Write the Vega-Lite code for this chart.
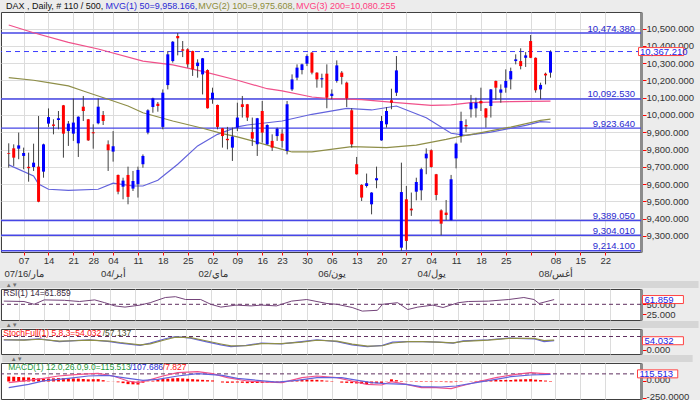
{
  "$schema": "https://vega.github.io/schema/vega-lite/v6.json",
  "background": "#ECECEC",
  "padding": {"left": -4, "top": 1, "right": 0, "bottom": 0},
  "autosize": {"type": "pad"},
  "config": {
    "font": "Liberation Sans",
    "view": {"fill": "#FFFFFF", "stroke": "#404040", "strokeWidth": 1},
    "axis": {"labelFont": "Liberation Sans", "gridColor": "#DCDCDC", "gridWidth": 1, "title": null, "tickCount": 200},
    "axisX": {"labelOverlap": false},
    "axisY": {"labelOverlap": false}
  },
  "datasets": {
    "candles": [
      {"i":0,"o":9780,"h":9836,"l":9695,"c":9776,"hist":75},
      {"i":1,"o":9807,"h":9830,"l":9705,"c":9753,"hist":72},
      {"i":2,"o":9805,"h":9898,"l":9744,"c":9824,"hist":68},
      {"i":3,"o":9763,"h":9811,"l":9686,"c":9780,"hist":64},
      {"i":4,"o":9700,"h":9782,"l":9614,"c":9692,"hist":61},
      {"i":5,"o":9699,"h":9834,"l":9676,"c":9724,"hist":54},
      {"i":6,"o":9701,"h":9994,"l":9495,"c":9498,"hist":47},
      {"i":7,"o":9672,"h":9834,"l":9637,"c":9830,"hist":40},
      {"i":8,"o":9950,"h":10038,"l":9931,"c":9988,"hist":44},
      {"i":9,"o":9945,"h":9975,"l":9888,"c":9937,"hist":48},
      {"i":10,"o":9971,"h":10023,"l":9917,"c":9981,"hist":51},
      {"i":11,"o":10056,"h":10058,"l":9753,"c":9892,"hist":50},
      {"i":12,"o":9907,"h":9965,"l":9821,"c":9950,"hist":48},
      {"i":13,"o":9892,"h":10096,"l":9850,"c":9956,"hist":46},
      {"i":14,"o":9836,"h":9992,"l":9757,"c":9990,"hist":44},
      {"i":15,"o":10048,"h":10110,"l":9965,"c":10023,"hist":38},
      {"i":16,"o":9975,"h":9977,"l":9850,"c":9853,"hist":33},
      {"i":17,"o":9900,"h":9946,"l":9805,"c":9894,"hist":35},
      {"i":18,"o":9952,"h":10096,"l":9946,"c":10048,"hist":36},
      {"i":19,"o":10000,"h":10023,"l":9942,"c":9965,"hist":20},
      {"i":20,"o":9830,"h":9853,"l":9676,"c":9796,"hist":4},
      {"i":21,"o":9788,"h":9907,"l":9730,"c":9819,"hist":2},
      {"i":22,"o":9653,"h":9655,"l":9541,"c":9556,"hist":-12},
      {"i":23,"o":9585,"h":9637,"l":9512,"c":9620,"hist":-25},
      {"i":24,"o":9653,"h":9701,"l":9483,"c":9526,"hist":-40},
      {"i":25,"o":9574,"h":9676,"l":9560,"c":9618,"hist":-43},
      {"i":26,"o":9599,"h":9701,"l":9522,"c":9682,"hist":-46},
      {"i":27,"o":9715,"h":9772,"l":9695,"c":9763,"hist":-18},
      {"i":28,"o":9898,"h":10033,"l":9888,"c":10027,"hist":-5},
      {"i":29,"o":10046,"h":10100,"l":10013,"c":10096,"hist":12},
      {"i":30,"o":10065,"h":10075,"l":10019,"c":10052,"hist":28},
      {"i":31,"o":9931,"h":10148,"l":9917,"c":10129,"hist":38},
      {"i":32,"o":10173,"h":10370,"l":10148,"c":10351,"hist":43},
      {"i":33,"o":10312,"h":10428,"l":10303,"c":10424,"hist":47},
      {"i":34,"o":10457,"h":10474.38,"l":10345,"c":10444,"hist":51},
      {"i":35,"o":10380,"h":10428,"l":10335,"c":10372,"hist":46},
      {"i":36,"o":10380,"h":10386,"l":10274,"c":10293,"hist":41},
      {"i":37,"o":10370,"h":10372,"l":10226,"c":10264,"hist":35},
      {"i":38,"o":10283,"h":10322,"l":10216,"c":10303,"hist":30},
      {"i":39,"o":10235,"h":10330,"l":10119,"c":10328,"hist":25},
      {"i":40,"o":10260,"h":10264,"l":10037,"c":10039,"hist":20},
      {"i":41,"o":10091,"h":10158,"l":10065,"c":10129,"hist":16},
      {"i":42,"o":10058,"h":10060,"l":9917,"c":9931,"hist":0},
      {"i":43,"o":9923,"h":9925,"l":9811,"c":9878,"hist":-15},
      {"i":44,"o":9862,"h":9931,"l":9801,"c":9854,"hist":-20},
      {"i":45,"o":9811,"h":9927,"l":9734,"c":9875,"hist":-18},
      {"i":46,"o":9927,"h":10071,"l":9907,"c":9985,"hist":-15},
      {"i":47,"o":10062,"h":10110,"l":9985,"c":10046,"hist":-20},
      {"i":48,"o":10062,"h":10064,"l":9965,"c":9985,"hist":-25},
      {"i":49,"o":9901,"h":9985,"l":9821,"c":9863,"hist":-23},
      {"i":50,"o":9830,"h":9983,"l":9763,"c":9981,"hist":-21},
      {"i":51,"o":10023,"h":10081,"l":9840,"c":9898,"hist":-20},
      {"i":52,"o":9830,"h":9946,"l":9828,"c":9942,"hist":-16},
      {"i":53,"o":9850,"h":9888,"l":9792,"c":9811,"hist":-12},
      {"i":54,"o":9878,"h":9927,"l":9850,"c":9921,"hist":-8},
      {"i":55,"o":9892,"h":9917,"l":9811,"c":9850,"hist":-16},
      {"i":56,"o":9792,"h":10081,"l":9772,"c":10062,"hist":-4},
      {"i":57,"o":10148,"h":10235,"l":10139,"c":10206,"hist":9},
      {"i":58,"o":10216,"h":10293,"l":10201,"c":10274,"hist":21},
      {"i":59,"o":10260,"h":10297,"l":10235,"c":10293,"hist":30},
      {"i":60,"o":10297,"h":10351,"l":10283,"c":10341,"hist":28},
      {"i":61,"o":10361,"h":10364,"l":10235,"c":10245,"hist":27},
      {"i":62,"o":10245,"h":10247,"l":10158,"c":10206,"hist":25},
      {"i":63,"o":10206,"h":10239,"l":10158,"c":10213,"hist":19},
      {"i":64,"o":10239,"h":10293,"l":10039,"c":10100,"hist":12},
      {"i":65,"o":10110,"h":10148,"l":10091,"c":10123,"hist":6},
      {"i":66,"o":10197,"h":10316,"l":10187,"c":10287,"hist":0},
      {"i":67,"o":10245,"h":10254,"l":10177,"c":10220,"hist":-17},
      {"i":68,"o":10187,"h":10193,"l":10046,"c":10096,"hist":-21},
      {"i":69,"o":10027,"h":10039,"l":9811,"c":9830,"hist":-25},
      {"i":70,"o":9715,"h":9757,"l":9655,"c":9657,"hist":-30},
      {"i":71,"o":9595,"h":9599,"l":9502,"c":9522,"hist":-34},
      {"i":72,"o":9589,"h":9661,"l":9580,"c":9605,"hist":-38},
      {"i":73,"o":9483,"h":9553,"l":9425,"c":9551,"hist":-28},
      {"i":74,"o":9622,"h":9701,"l":9576,"c":9634,"hist":-26},
      {"i":75,"o":9853,"h":9994,"l":9851,"c":9965,"hist":-25},
      {"i":76,"o":9946,"h":10046,"l":9927,"c":10023,"hist":4},
      {"i":77,"o":10085,"h":10152,"l":10033,"c":10071,"hist":33},
      {"i":78,"o":10129,"h":10341,"l":10110,"c":10258,"hist":20},
      {"i":79,"o":9232,"h":9724,"l":9214.1,"c":9554,"hist":8},
      {"i":80,"o":9512,"h":9589,"l":9220,"c":9271,"hist":-3},
      {"i":81,"o":9458,"h":9551,"l":9416,"c":9448,"hist":-5},
      {"i":82,"o":9556,"h":9637,"l":9506,"c":9612,"hist":-7},
      {"i":83,"o":9564,"h":9695,"l":9506,"c":9686,"hist":-8},
      {"i":84,"o":9749,"h":9807,"l":9657,"c":9776,"hist":-7},
      {"i":85,"o":9796,"h":9801,"l":9695,"c":9699,"hist":-7},
      {"i":86,"o":9657,"h":9659,"l":9506,"c":9537,"hist":-6},
      {"i":87,"o":9448,"h":9454,"l":9304.01,"c":9371,"hist":-8},
      {"i":88,"o":9435,"h":9508,"l":9391,"c":9421,"hist":-10},
      {"i":89,"o":9391,"h":9653,"l":9389.05,"c":9628,"hist":-12},
      {"i":90,"o":9749,"h":9840,"l":9691,"c":9834,"hist":-8},
      {"i":91,"o":9878,"h":10019,"l":9840,"c":9965,"hist":-5},
      {"i":92,"o":9942,"h":9975,"l":9900,"c":9934,"hist":-1},
      {"i":93,"o":10033,"h":10116,"l":9985,"c":10071,"hist":4},
      {"i":94,"o":10038,"h":10100,"l":9985,"c":10071,"hist":8},
      {"i":95,"o":10081,"h":10158,"l":10023,"c":10067,"hist":13},
      {"i":96,"o":10038,"h":10040,"l":9927,"c":9985,"hist":17},
      {"i":97,"o":10052,"h":10150,"l":9985,"c":10148,"hist":21},
      {"i":98,"o":10197,"h":10199,"l":10087,"c":10158,"hist":25},
      {"i":99,"o":10129,"h":10177,"l":10071,"c":10148,"hist":24},
      {"i":100,"o":10158,"h":10264,"l":10129,"c":10197,"hist":24},
      {"i":101,"o":10206,"h":10274,"l":10148,"c":10254,"hist":23},
      {"i":102,"o":10312,"h":10351,"l":10293,"c":10322,"hist":30},
      {"i":103,"o":10312,"h":10386,"l":10264,"c":10283,"hist":32},
      {"i":104,"o":10331,"h":10364,"l":10278,"c":10345,"hist":34},
      {"i":105,"o":10428,"h":10463,"l":10329,"c":10331,"hist":36},
      {"i":106,"o":10331,"h":10333,"l":10129,"c":10143,"hist":28},
      {"i":107,"o":10148,"h":10187,"l":10091,"c":10174,"hist":21},
      {"i":108,"o":10239,"h":10245,"l":10177,"c":10229,"hist":14},
      {"i":109,"o":10245,"h":10374,"l":10216,"c":10367.21,"hist":7.827}
    ],
    "levels": [
      {"v":10474.38,"t":"10,474.380"},
      {"v":10092.53,"t":"10,092.530"},
      {"v":9923.64,"t":"9,923.640"},
      {"v":9389.05,"t":"9,389.050"},
      {"v":9304.01,"t":"9,304.010"},
      {"v":9214.10,"t":"9,214.100"}
    ],
    "ma": [
      {"i":0,"v":9711,"s":"MVG50"},{"i":5,"v":9647,"s":"MVG50"},{"i":6,"v":9600,"s":"MVG50"},{"i":8,"v":9570,"s":"MVG50"},{"i":12,"v":9564,"s":"MVG50"},{"i":18,"v":9570,"s":"MVG50"},{"i":21,"v":9605,"s":"MVG50"},{"i":25,"v":9589,"s":"MVG50"},{"i":27,"v":9589,"s":"MVG50"},{"i":30,"v":9622,"s":"MVG50"},{"i":34,"v":9715,"s":"MVG50"},{"i":38,"v":9821,"s":"MVG50"},{"i":42,"v":9888,"s":"MVG50"},{"i":46,"v":9931,"s":"MVG50"},{"i":48,"v":9942,"s":"MVG50"},{"i":55,"v":9965,"s":"MVG50"},{"i":61,"v":10004,"s":"MVG50"},{"i":68,"v":10038,"s":"MVG50"},{"i":73,"v":10029,"s":"MVG50"},{"i":78,"v":10052,"s":"MVG50"},{"i":84,"v":9984,"s":"MVG50"},{"i":89,"v":9894,"s":"MVG50"},{"i":92,"v":9882,"s":"MVG50"},{"i":97,"v":9901,"s":"MVG50"},{"i":104,"v":9940,"s":"MVG50"},{"i":107,"v":9961,"s":"MVG50"},{"i":109,"v":9958,"s":"MVG50"},
      {"i":0,"v":10216,"s":"MVG100"},{"i":5,"v":10201,"s":"MVG100"},{"i":8,"v":10187,"s":"MVG100"},{"i":12,"v":10168,"s":"MVG100"},{"i":15,"v":10139,"s":"MVG100"},{"i":18,"v":10110,"s":"MVG100"},{"i":20,"v":10091,"s":"MVG100"},{"i":24,"v":10052,"s":"MVG100"},{"i":27,"v":10013,"s":"MVG100"},{"i":33,"v":9965,"s":"MVG100"},{"i":39,"v":9923,"s":"MVG100"},{"i":43,"v":9892,"s":"MVG100"},{"i":46,"v":9873,"s":"MVG100"},{"i":49,"v":9850,"s":"MVG100"},{"i":55,"v":9801,"s":"MVG100"},{"i":57,"v":9786,"s":"MVG100"},{"i":61,"v":9786,"s":"MVG100"},{"i":69,"v":9817,"s":"MVG100"},{"i":76,"v":9811,"s":"MVG100"},{"i":82,"v":9826,"s":"MVG100"},{"i":88,"v":9859,"s":"MVG100"},{"i":91,"v":9878,"s":"MVG100"},{"i":94,"v":9892,"s":"MVG100"},{"i":101,"v":9930,"s":"MVG100"},{"i":107,"v":9969,"s":"MVG100"},{"i":109,"v":9975.6,"s":"MVG100"},
      {"i":0,"v":10521,"s":"MVG200"},{"i":5,"v":10476,"s":"MVG200"},{"i":12,"v":10420,"s":"MVG200"},{"i":18,"v":10382,"s":"MVG200"},{"i":27,"v":10312,"s":"MVG200"},{"i":33,"v":10290,"s":"MVG200"},{"i":39,"v":10252,"s":"MVG200"},{"i":46,"v":10201,"s":"MVG200"},{"i":52,"v":10152,"s":"MVG200"},{"i":55,"v":10140,"s":"MVG200"},{"i":61,"v":10104,"s":"MVG200"},{"i":64,"v":10096,"s":"MVG200"},{"i":71,"v":10089,"s":"MVG200"},{"i":78,"v":10071,"s":"MVG200"},{"i":85,"v":10056,"s":"MVG200"},{"i":89,"v":10058,"s":"MVG200"},{"i":93,"v":10071,"s":"MVG200"},{"i":101,"v":10077,"s":"MVG200"},{"i":109,"v":10080.3,"s":"MVG200"}
    ],
    "rsi": [
      {"i":0,"v":58},{"i":4,"v":57},{"i":6,"v":50},{"i":8,"v":61},{"i":12,"v":60},{"i":15,"v":57},{"i":18,"v":61},{"i":20,"v":54},{"i":22,"v":46},{"i":24,"v":43},{"i":27,"v":48},{"i":29,"v":54},{"i":32,"v":67},{"i":34,"v":69},{"i":36,"v":62},{"i":39,"v":62},{"i":41,"v":50},{"i":43,"v":43},{"i":46,"v":48},{"i":49,"v":46},{"i":51,"v":48},{"i":54,"v":46},{"i":57,"v":58},{"i":60,"v":62},{"i":64,"v":52},{"i":66,"v":50},{"i":69,"v":42},{"i":71,"v":33},{"i":74,"v":35},{"i":75,"v":50},{"i":78,"v":54},{"i":80,"v":37},{"i":82,"v":43},{"i":85,"v":48},{"i":87,"v":42},{"i":90,"v":54},{"i":92,"v":57},{"i":96,"v":58},{"i":100,"v":62},{"i":103,"v":67},{"i":105,"v":62},{"i":106,"v":52},{"i":109,"v":61.859}
    ],
    "stoch": [
      {"i":0,"v":59,"s":"K"},{"i":4,"v":59,"s":"K"},{"i":7,"v":66,"s":"K"},{"i":11,"v":49,"s":"K"},{"i":14,"v":55,"s":"K"},{"i":17,"v":60,"s":"K"},{"i":21,"v":49,"s":"K"},{"i":23,"v":39,"s":"K"},{"i":27,"v":25,"s":"K"},{"i":29,"v":39,"s":"K"},{"i":32,"v":66,"s":"K"},{"i":34,"v":80,"s":"K"},{"i":37,"v":70,"s":"K"},{"i":40,"v":49,"s":"K"},{"i":43,"v":29,"s":"K"},{"i":45,"v":18,"s":"K"},{"i":48,"v":25,"s":"K"},{"i":51,"v":39,"s":"K"},{"i":55,"v":35,"s":"K"},{"i":59,"v":49,"s":"K"},{"i":62,"v":60,"s":"K"},{"i":66,"v":49,"s":"K"},{"i":69,"v":29,"s":"K"},{"i":72,"v":18,"s":"K"},{"i":75,"v":25,"s":"K"},{"i":77,"v":45,"s":"K"},{"i":80,"v":49,"s":"K"},{"i":83,"v":49,"s":"K"},{"i":86,"v":45,"s":"K"},{"i":89,"v":39,"s":"K"},{"i":91,"v":53,"s":"K"},{"i":96,"v":60,"s":"K"},{"i":100,"v":70,"s":"K"},{"i":105,"v":66,"s":"K"},{"i":107,"v":49,"s":"K"},{"i":109,"v":54.032,"s":"K"},
      {"i":0,"v":60,"s":"D"},{"i":4,"v":58,"s":"D"},{"i":7,"v":63,"s":"D"},{"i":11,"v":52,"s":"D"},{"i":14,"v":54,"s":"D"},{"i":17,"v":58,"s":"D"},{"i":21,"v":52,"s":"D"},{"i":23,"v":43,"s":"D"},{"i":27,"v":28,"s":"D"},{"i":29,"v":35,"s":"D"},{"i":32,"v":60,"s":"D"},{"i":34,"v":76,"s":"D"},{"i":37,"v":73,"s":"D"},{"i":40,"v":54,"s":"D"},{"i":43,"v":34,"s":"D"},{"i":45,"v":22,"s":"D"},{"i":48,"v":23,"s":"D"},{"i":51,"v":36,"s":"D"},{"i":55,"v":36,"s":"D"},{"i":59,"v":46,"s":"D"},{"i":62,"v":57,"s":"D"},{"i":66,"v":52,"s":"D"},{"i":69,"v":33,"s":"D"},{"i":72,"v":21,"s":"D"},{"i":75,"v":23,"s":"D"},{"i":77,"v":40,"s":"D"},{"i":80,"v":48,"s":"D"},{"i":83,"v":49,"s":"D"},{"i":86,"v":46,"s":"D"},{"i":89,"v":41,"s":"D"},{"i":91,"v":50,"s":"D"},{"i":96,"v":58,"s":"D"},{"i":100,"v":68,"s":"D"},{"i":105,"v":68,"s":"D"},{"i":107,"v":55,"s":"D"},{"i":109,"v":57.137,"s":"D"}
    ],
    "macd": [
      {"i":0,"v":-18,"s":"MACD"},{"i":4,"v":18,"s":"MACD"},{"i":7,"v":48,"s":"MACD"},{"i":10,"v":83,"s":"MACD"},{"i":14,"v":109,"s":"MACD"},{"i":18,"v":124,"s":"MACD"},{"i":21,"v":83,"s":"MACD"},{"i":24,"v":8,"s":"MACD"},{"i":26,"v":-18,"s":"MACD"},{"i":28,"v":18,"s":"MACD"},{"i":31,"v":83,"s":"MACD"},{"i":34,"v":134,"s":"MACD"},{"i":38,"v":149,"s":"MACD"},{"i":41,"v":119,"s":"MACD"},{"i":44,"v":58,"s":"MACD"},{"i":48,"v":8,"s":"MACD"},{"i":51,"v":-8,"s":"MACD"},{"i":55,"v":-18,"s":"MACD"},{"i":59,"v":58,"s":"MACD"},{"i":62,"v":83,"s":"MACD"},{"i":66,"v":58,"s":"MACD"},{"i":69,"v":8,"s":"MACD"},{"i":72,"v":-43,"s":"MACD"},{"i":75,"v":-53,"s":"MACD"},{"i":77,"v":-3,"s":"MACD"},{"i":80,"v":-43,"s":"MACD"},{"i":83,"v":-93,"s":"MACD"},{"i":86,"v":-93,"s":"MACD"},{"i":89,"v":-109,"s":"MACD"},{"i":91,"v":-68,"s":"MACD"},{"i":95,"v":8,"s":"MACD"},{"i":98,"v":58,"s":"MACD"},{"i":102,"v":109,"s":"MACD"},{"i":105,"v":134,"s":"MACD"},{"i":107,"v":124,"s":"MACD"},{"i":109,"v":115.513,"s":"MACD"},
      {"i":0,"v":-93,"s":"Signal"},{"i":4,"v":-43,"s":"Signal"},{"i":7,"v":8,"s":"Signal"},{"i":12,"v":48,"s":"Signal"},{"i":16,"v":83,"s":"Signal"},{"i":20,"v":93,"s":"Signal"},{"i":23,"v":58,"s":"Signal"},{"i":27,"v":18,"s":"Signal"},{"i":30,"v":33,"s":"Signal"},{"i":34,"v":83,"s":"Signal"},{"i":38,"v":119,"s":"Signal"},{"i":43,"v":93,"s":"Signal"},{"i":46,"v":48,"s":"Signal"},{"i":50,"v":18,"s":"Signal"},{"i":54,"v":-8,"s":"Signal"},{"i":58,"v":18,"s":"Signal"},{"i":62,"v":58,"s":"Signal"},{"i":67,"v":58,"s":"Signal"},{"i":69,"v":33,"s":"Signal"},{"i":73,"v":-18,"s":"Signal"},{"i":76,"v":-33,"s":"Signal"},{"i":80,"v":-43,"s":"Signal"},{"i":83,"v":-78,"s":"Signal"},{"i":87,"v":-83,"s":"Signal"},{"i":90,"v":-68,"s":"Signal"},{"i":94,"v":-18,"s":"Signal"},{"i":98,"v":33,"s":"Signal"},{"i":101,"v":73,"s":"Signal"},{"i":105,"v":98,"s":"Signal"},{"i":109,"v":107.686,"s":"Signal"}
    ]
  },
  "spacing": 37,
  "bounds": "flush",
  "vconcat": [
    {
      "width": 640,
      "height": 240,
      "layer": [
        {
          "data": {"name": "levels"},
          "mark": {"type": "rule", "color": "#4646E6", "strokeWidth": 1.4},
          "encoding": {
            "y": {"field": "v", "type": "quantitative",
              "scale": {"domain": [9207, 10596], "nice": false, "zero": false},
              "axis": {"orient": "right", "values": [9300,9400,9500,9600,9700,9800,9900,10000,10100,10200,10300,10400,10500], "tickCount": 200, "format": ",.3f", "grid": true, "gridColor": "#DCDCDC", "domainColor": "#8C8C8C", "domainWidth": 3, "tickColor": "#FF0000", "tickSize": 5, "labelColor": "#333333", "labelFontSize": 9.5, "labelPadding": 0, "labelOverlap": false}}
          }
        },
        {
          "data": {"values": [{"v": 10367.21}]},
          "mark": {"type": "rule", "color": "#3C3CFF", "strokeWidth": 1, "strokeDash": [5, 4]},
          "encoding": {"y": {"field": "v", "type": "quantitative"}}
        },
        {
          "data": {"name": "levels"},
          "mark": {"type": "text", "align": "right", "baseline": "alphabetic", "dy": -1.5, "color": "#2A2AD0", "fontSize": 9.5},
          "encoding": {
            "x": {"datum": 126.0, "type": "quantitative"},
            "y": {"field": "v", "type": "quantitative"},
            "text": {"field": "t"}
          }
        },
        {
          "data": {"name": "ma"},
          "mark": {"type": "line", "strokeWidth": 1.2},
          "encoding": {
            "x": {"field": "i", "type": "quantitative",
              "scale": {"domain": [-0.55, 126.2], "nice": false, "zero": false},
              "axis": {"orient": "bottom", "values": [3,8,13,17,21,26,31,36,41,46,51,55,60,65,70,75,80,85,90,95,100,105,110,115,120], "tickCount": 200,
                "labelExpr": "({'3':['07','07/16/مار'],'8':'14','13':'21','17':'28','21':['04','04/أبر'],'26':'11','31':'18','36':'25','41':['02','02/ماي'],'46':'09','51':'16','55':'23','60':'30','65':['06','06/يون'],'70':'13','75':'20','80':'27','85':['04','04/يول'],'90':'11','95':'18','100':'25','105':'','110':['08','08/أغس'],'115':'15','120':'22'})[datum.value]",
                "grid": true, "gridColor": "#DCDCDC", "domain": false, "ticks": true, "tickColor": "#FF0000", "tickSize": 3,
                "labelColor": "#333333", "labelFontSize": 9.5, "labelPadding": 0, "labelOverlap": false, "labelFlush": false, "labelBound": false, "labelLineHeight": 13, "labelBaseline": "top"}},
            "y": {"field": "v", "type": "quantitative"},
            "color": {"field": "s", "type": "nominal", "scale": {"domain": ["MVG50", "MVG100", "MVG200"], "range": ["#6262DC", "#8E8E48", "#F0508A"]}, "legend": null}
          }
        },
        {
          "data": {"name": "candles"},
          "mark": {"type": "rule", "color": "#404040", "strokeWidth": 1},
          "encoding": {
            "x": {"field": "i", "type": "quantitative"},
            "y": {"field": "l", "type": "quantitative"},
            "y2": {"field": "h"}
          }
        },
        {
          "data": {"name": "candles"},
          "mark": {"type": "bar", "width": 3},
          "encoding": {
            "x": {"field": "i", "type": "quantitative"},
            "y": {"field": "o", "type": "quantitative"},
            "y2": {"field": "c"},
            "color": {"condition": {"test": "datum.c >= datum.o", "value": "#0000FF"}, "value": "#FF0000"}
          }
        },
        {
          "data": {"values": [{"t": "DAX , Daily, # 110 / 500,"}]},
          "mark": {"type": "text", "align": "left", "baseline": "top", "fontSize": 9, "color": "#111111"},
          "encoding": {"x": {"datum": -0.55, "type": "quantitative"}, "y": {"datum": 10654, "type": "quantitative"}, "text": {"field": "t"}}
        },
        {
          "data": {"values": [{"t": "MVG(1) 50=9,958.166,"}]},
          "mark": {"type": "text", "align": "left", "baseline": "top", "fontSize": 9, "color": "#2A2AD4"},
          "encoding": {"x": {"datum": 19.47, "type": "quantitative"}, "y": {"datum": 10654, "type": "quantitative"}, "text": {"field": "t"}}
        },
        {
          "data": {"values": [{"t": "MVG(2) 100=9,975.608,"}]},
          "mark": {"type": "text", "align": "left", "baseline": "top", "fontSize": 9, "color": "#8C8C3A"},
          "encoding": {"x": {"datum": 38.14, "type": "quantitative"}, "y": {"datum": 10654, "type": "quantitative"}, "text": {"field": "t"}}
        },
        {
          "data": {"values": [{"t": "MVG(3) 200=10,080.255"}]},
          "mark": {"type": "text", "align": "left", "baseline": "top", "fontSize": 9, "color": "#FF3D7F"},
          "encoding": {"x": {"datum": 57.81, "type": "quantitative"}, "y": {"datum": 10654, "type": "quantitative"}, "text": {"field": "t"}}
        },
        {
          "data": {"values": [{}]},
          "mark": {"type": "rect", "fill": "#FFFFFF", "stroke": "#FF4040", "strokeWidth": 1},
          "encoding": {"x": {"datum": 126.7, "type": "quantitative"}, "x2": {"datum": 135.8}, "y": {"datum": 10390, "type": "quantitative"}, "y2": {"datum": 10344}}
        },
        {
          "data": {"values": [{"t": "10,367.210"}]},
          "mark": {"type": "text", "align": "left", "baseline": "middle", "fontSize": 9.5, "color": "#1E1EE6"},
          "encoding": {"x": {"datum": 127.0, "type": "quantitative"}, "y": {"datum": 10367.21, "type": "quantitative"}, "text": {"field": "t"}}
        }
      ]
    },
    {
      "spacing": 9,
      "bounds": "flush",
      "vconcat": [
        {
          "width": 640,
          "height": 31,
          "layer": [
            {
              "data": {"values": [{"v": 50}]},
              "mark": {"type": "rule", "color": "#603060", "strokeWidth": 1, "strokeDash": [4, 3]},
              "encoding": {"y": {"field": "v", "type": "quantitative",
                "scale": {"domain": [10.75, 88.25], "nice": false, "zero": false},
                "axis": {"orient": "right", "values": [25, 50], "tickCount": 200, "format": ".3f", "grid": false, "domainColor": "#8C8C8C", "domainWidth": 3, "tickColor": "#FF0000", "tickSize": 5, "labelColor": "#333333", "labelFontSize": 9.5, "labelPadding": 0, "labelOverlap": false}}}
            },
            {
              "data": {"values": [{}]},
              "mark": {"type": "rect", "fill": "#D6D6D6"},
              "encoding": {"x": {"datum": -1.3, "type": "quantitative"}, "x2": {"datum": 137.6}, "y": {"datum": 108.25, "type": "quantitative"}, "y2": {"datum": 90.75}}
            },
            {
              "data": {"values": [{"t": "▲▼"}]},
              "mark": {"type": "text", "align": "left", "baseline": "middle", "fontSize": 6, "color": "#707070"},
              "encoding": {"x": {"datum": 0.4, "type": "quantitative"}, "y": {"datum": 99.5, "type": "quantitative"}, "text": {"field": "t"}}
            },
            {
              "data": {"name": "rsi"},
              "mark": {"type": "line", "color": "#74447A", "strokeWidth": 1},
              "encoding": {
                "x": {"field": "i", "type": "quantitative", "scale": {"domain": [-0.55, 126.2], "nice": false, "zero": false},
                  "axis": {"values": [3,8,13,17,21,26,31,36,41,46,51,55,60,65,70,75,80,85,90,95,100,105,110,115,120], "tickCount": 200, "labels": false, "ticks": false, "domain": false, "grid": true, "gridColor": "#DCDCDC"}},
                "y": {"field": "v", "type": "quantitative"}
              }
            },
            {
              "data": {"values": [{"t": "RSI(1) 14=61.859"}]},
              "mark": {"type": "text", "align": "left", "baseline": "middle", "fontSize": 8.5, "color": "#3C283C"},
              "encoding": {"x": {"datum": -0.1, "type": "quantitative"}, "y": {"datum": 78.25, "type": "quantitative"}, "text": {"field": "t"}}
            },
            {
              "data": {"values": [{}]},
              "mark": {"type": "rect", "fill": "#FFFFFF", "stroke": "#FF4040", "strokeWidth": 1},
              "encoding": {"x": {"datum": 126.5, "type": "quantitative"}, "x2": {"datum": 134.6}, "y": {"datum": 71.9, "type": "quantitative"}, "y2": {"datum": 51.9}}
            },
            {
              "data": {"values": [{"t": "61.859"}]},
              "mark": {"type": "text", "align": "left", "baseline": "middle", "fontSize": 9.5, "color": "#1E1EE6"},
              "encoding": {"x": {"datum": 126.9, "type": "quantitative"}, "y": {"datum": 61.859, "type": "quantitative"}, "text": {"field": "t"}}
            }
          ]
        },
        {
          "width": 640,
          "height": 25,
          "layer": [
            {
              "data": {"values": [{"v": 80}]},
              "mark": {"type": "rule", "color": "#603060", "strokeWidth": 1, "strokeDash": [4, 3]},
              "encoding": {"y": {"field": "v", "type": "quantitative",
                "scale": {"domain": [-27.7, 126.2], "nice": false, "zero": false},
                "axis": {"orient": "right", "values": [0], "tickCount": 200, "format": ".3f", "grid": false, "domainColor": "#8C8C8C", "domainWidth": 3, "tickColor": "#FF0000", "tickSize": 5, "labelColor": "#333333", "labelFontSize": 9.5, "labelPadding": 0, "labelOverlap": false}}}
            },
            {
              "data": {"values": [{}]},
              "mark": {"type": "rect", "fill": "#D6D6D6"},
              "encoding": {"x": {"datum": -1.3, "type": "quantitative"}, "x2": {"datum": 137.6}, "y": {"datum": 175.4, "type": "quantitative"}, "y2": {"datum": 132.4}}
            },
            {
              "data": {"values": [{"t": "▲▼"}]},
              "mark": {"type": "text", "align": "left", "baseline": "middle", "fontSize": 6, "color": "#707070"},
              "encoding": {"x": {"datum": 0.4, "type": "quantitative"}, "y": {"datum": 153.9, "type": "quantitative"}, "text": {"field": "t"}}
            },
            {
              "data": {"name": "stoch"},
              "mark": {"type": "line", "strokeWidth": 1.2},
              "encoding": {
                "x": {"field": "i", "type": "quantitative", "scale": {"domain": [-0.55, 126.2], "nice": false, "zero": false},
                  "axis": {"values": [3,8,13,17,21,26,31,36,41,46,51,55,60,65,70,75,80,85,90,95,100,105,110,115,120], "tickCount": 200, "labels": false, "ticks": false, "domain": false, "grid": true, "gridColor": "#DCDCDC"}},
                "y": {"field": "v", "type": "quantitative"},
                "color": {"field": "s", "type": "nominal", "scale": {"domain": ["K", "D"], "range": ["#FF2020", "#5A5A32"]}, "legend": null}
              }
            },
            {
              "data": {"values": [{"t": "StochFull(1) 5,8,3=54.032"}]},
              "mark": {"type": "text", "align": "left", "baseline": "middle", "fontSize": 8.5, "color": "#FF1010"},
              "encoding": {"x": {"datum": -0.1, "type": "quantitative"}, "y": {"datum": 101.6, "type": "quantitative"}, "text": {"field": "t"}}
            },
            {
              "data": {"values": [{"t": "/57.137"}]},
              "mark": {"type": "text", "align": "left", "baseline": "middle", "fontSize": 8.5, "color": "#4A4A28"},
              "encoding": {"x": {"datum": 19.6, "type": "quantitative"}, "y": {"datum": 101.6, "type": "quantitative"}, "text": {"field": "t"}}
            },
            {
              "data": {"values": [{}]},
              "mark": {"type": "rect", "fill": "#FFFFFF", "stroke": "#FF4040", "strokeWidth": 1},
              "encoding": {"x": {"datum": 126.5, "type": "quantitative"}, "x2": {"datum": 134.6}, "y": {"datum": 78.6, "type": "quantitative"}, "y2": {"datum": 29.4}}
            },
            {
              "data": {"values": [{"t": "54.032"}]},
              "mark": {"type": "text", "align": "left", "baseline": "middle", "fontSize": 9.5, "color": "#1E1EE6"},
              "encoding": {"x": {"datum": 126.9, "type": "quantitative"}, "y": {"datum": 54.032, "type": "quantitative"}, "text": {"field": "t"}}
            }
          ]
        },
        {
          "width": 640,
          "height": 36,
          "layer": [
            {
              "data": {"name": "candles"},
              "mark": {"type": "bar", "width": 3, "color": "#FF0000"},
              "encoding": {
                "x": {"field": "i", "type": "quantitative", "scale": {"domain": [-0.55, 126.2], "nice": false, "zero": false},
                  "axis": {"values": [3,8,13,17,21,26,31,36,41,46,51,55,60,65,70,75,80,85,90,95,100,105,110,115,120], "tickCount": 200, "labels": false, "ticks": false, "domain": false, "grid": true, "gridColor": "#DCDCDC"}},
                "y": {"field": "hist", "type": "quantitative",
                  "scale": {"domain": [-265, 280], "nice": false, "zero": false},
                  "axis": {"orient": "right", "values": [0, -250], "tickCount": 200, "labelExpr": "datum.value == 0 ? '0.000' : '-250.0000'", "grid": false, "domainColor": "#8C8C8C", "domainWidth": 3, "tickColor": "#FF0000", "tickSize": 5, "labelColor": "#333333", "labelFontSize": 9.5, "labelPadding": 0, "labelOffset": -2, "labelOverlap": false}},
                "y2": {"datum": 0}
              }
            },
            {
              "data": {"values": [{}]},
              "mark": {"type": "rect", "fill": "#D6D6D6"},
              "encoding": {"x": {"datum": -1.3, "type": "quantitative"}, "x2": {"datum": 137.6}, "y": {"datum": 401, "type": "quantitative"}, "y2": {"datum": 295}}
            },
            {
              "data": {"values": [{"t": "▲▼"}]},
              "mark": {"type": "text", "align": "left", "baseline": "middle", "fontSize": 6, "color": "#707070"},
              "encoding": {"x": {"datum": 0.4, "type": "quantitative"}, "y": {"datum": 348, "type": "quantitative"}, "text": {"field": "t"}}
            },
            {
              "data": {"values": [{"v": 115.513}]},
              "mark": {"type": "rule", "color": "#603060", "strokeWidth": 1, "strokeDash": [4, 3]},
              "encoding": {"y": {"field": "v", "type": "quantitative"}}
            },
            {
              "data": {"name": "macd"},
              "mark": {"type": "line", "strokeWidth": 1.2},
              "encoding": {
                "x": {"field": "i", "type": "quantitative"},
                "y": {"field": "v", "type": "quantitative"},
                "color": {"field": "s", "type": "nominal", "scale": {"domain": ["MACD", "Signal"], "range": ["#2EAA4A", "#3434E0"]}, "legend": null}
              }
            },
            {
              "data": {"values": [{"t": "MACD(1) 12.0,26.0,9.0=115.513"}]},
              "mark": {"type": "text", "align": "left", "baseline": "middle", "fontSize": 8.5, "color": "#1E9A3C"},
              "encoding": {"x": {"datum": -0.1, "type": "quantitative"}, "y": {"datum": 219, "type": "quantitative"}, "text": {"field": "t"}}
            },
            {
              "data": {"values": [{"t": "/107.686"}]},
              "mark": {"type": "text", "align": "left", "baseline": "middle", "fontSize": 8.5, "color": "#2A2AD4"},
              "encoding": {"x": {"datum": 24.4, "type": "quantitative"}, "y": {"datum": 219, "type": "quantitative"}, "text": {"field": "t"}}
            },
            {
              "data": {"values": [{"t": "/7.827"}]},
              "mark": {"type": "text", "align": "left", "baseline": "middle", "fontSize": 8.5, "color": "#FF1010"},
              "encoding": {"x": {"datum": 31.0, "type": "quantitative"}, "y": {"datum": 219, "type": "quantitative"}, "text": {"field": "t"}}
            },
            {
              "data": {"values": [{}]},
              "mark": {"type": "rect", "fill": "#FFFFFF", "stroke": "#FF4040", "strokeWidth": 1},
              "encoding": {"x": {"datum": 126.5, "type": "quantitative"}, "x2": {"datum": 134.6}, "y": {"datum": 176, "type": "quantitative"}, "y2": {"datum": 55}}
            },
            {
              "data": {"values": [{"t": "115.513"}]},
              "mark": {"type": "text", "align": "left", "baseline": "middle", "fontSize": 9.5, "color": "#1E1EE6"},
              "encoding": {"x": {"datum": 126.9, "type": "quantitative"}, "y": {"datum": 115.513, "type": "quantitative"}, "text": {"field": "t"}}
            }
          ]
        }
      ]
    }
  ]
}
